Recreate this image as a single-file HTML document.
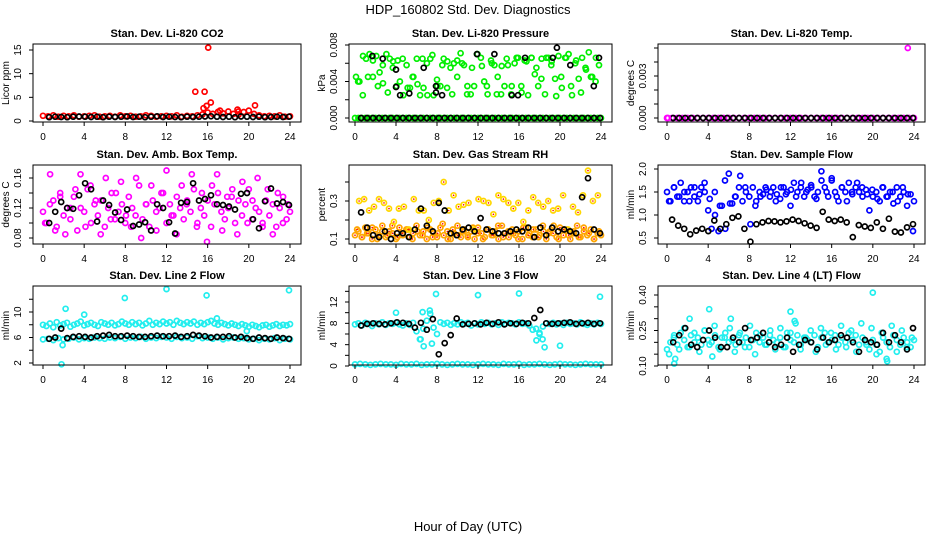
<!DOCTYPE html>
<html><head><meta charset="utf-8">
<style>
html,body{margin:0;padding:0;background:#fff}
svg{display:block;font-family:"Liberation Sans",Arial,sans-serif}
</style></head>
<body>
<svg id="c" width="936" height="540" viewBox="0 0 936 540">
<text x="468" y="14" text-anchor="middle" font-size="13">HDP_160802 Std. Dev. Diagnostics</text>
<text x="468" y="531" text-anchor="middle" font-size="13">Hour of Day (UTC)</text>
</svg>
<script>
// ---- data ----
const xTicks=[0,4,8,12,16,20,24];
// CO2
const co2Red=[1.1,1.0,1.2,0.9,1.1,1.0,1.2,0.9,1.0,1.1,1.2,0.9,1.0,1.1,0.9,1.2,1.0,1.1,0.9,1.0,1.2,1.1,0.9,1.0,1.1,1.0,1.2,0.9,1.1,1.0,1.2,1.4,1.8,1.5,1.9,1.6,2.0,1.5,1.3,1.9,2.2,1.5,1.2,1.0,1.1,1.0,1.2,0.9,1.0];
const co2OutHours=[14.8,15.7,16.05,16.3,15.9,15.6,20.6,17.2,18.9,17.0,19.0];
const co2OutVals=[6.2,6.2,15.5,3.9,3.2,2.7,3.3,2.2,2.4,1.9,2.0];
const co2Black=[0.8,0.9,0.85,0.8,0.9,0.95,0.9,0.85,0.9,0.8,0.9,0.85,0.9,0.95,0.85,0.9,0.8,0.9,1.0,0.85,0.9,0.85,0.8,0.9,0.85,0.9,0.95,1.0,0.9,0.85,0.9,0.8,0.95,0.9,0.85,0.9,0.8,0.85,0.9,0.85,0.9];
// Pressure
const presGreenA=[0.0045,0.004,0.0025,0.0065,0.007,0.0045,0.0068,0.005,0.0038,0.007,0.0065,0.0062,0.0035,0.004,0.0025,0.0058,0.0033,0.0045,0.0065,0.0025,0.0033,0.006,0.0065,0.0025,0.0042,0.0035,0.0065,0.0033,0.0055,0.006,0.0063,0.0071,0.0058,0.0035,0.0026,0.0035,0.007,0.0066,0.004,0.0026,0.0063,0.0058,0.0045,0.0026,0.0035,0.0058,0.0026,0.006,0.0066,0.0035,0.0063,0.0025,0.0066,0.0048,0.0035,0.0065,0.0026,0.0066,0.0062,0.0043,0.0068,0.0033,0.0066,0.007,0.0025,0.006,0.0043,0.0066,0.0055,0.0072,0.0045,0.004,0.0058];
const presGreenB=[0.004,0.0068,0.0045,0.0063,0.0035,0.0058,0.0028,0.0055,0.0063,0.0065,0.0033,0.0045,0.0037,0.0065,0.0025,0.0069,0.0035,0.0058,0.0062,0.0026,0.0045,0.006,0.0026,0.0055,0.007,0.0057,0.0035,0.006,0.0026,0.0057,0.0065,0.0035,0.0066,0.0028,0.0062,0.0066,0.0055,0.0043,0.0066,0.0058,0.0024,0.0045,0.0066,0.0035,0.0063,0.0028,0.0053,0.0045,0.0066];
const presGreenZero=[0,0,0,0,0,0,0,0,0,0,0,0,0,0,0,0,0,0,0,0,0,0,0,0,0,0,0,0,0,0,0,0,0,0,0,0,0,0,0,0,0,0,0,0,0,0,0,0,0,0,0,0,0,0,0,0,0,0,0,0,0,0,0,0,0,0,0,0,0,0,0,0,0];
const presBlackZero=[0,0,0,0,0,0,0,0,0,0,0,0,0,0,0,0,0,0,0,0,0,0,0,0,0,0,0,0,0,0,0,0,0,0,0,0,0,0,0,0,0];
const presBlackHours=[1.7,2.7,4.0,4.0,4.4,5.3,6.7,7.9,7.9,8.5,11.9,13.6,15.3,15.9,16.6,19.3,19.7,21.0,23.3,23.8];
const presBlackVals=[0.0068,0.0065,0.0053,0.0034,0.0025,0.0027,0.0055,0.0035,0.0028,0.0025,0.007,0.007,0.0025,0.0025,0.0066,0.0066,0.0077,0.0058,0.0035,0.0066];
// Li-820 Temp
const tempMagZero=[0,0,0,0,0,0,0,0,0,0,0,0,0,0,0,0,0,0,0,0,0,0,0,0,0,0,0,0,0,0,0,0,0,0,0,0,0,0,0,0,0,0,0,0,0,0,0,0,0];
const tempBlackZero=[0,0,0,0,0,0,0,0,0,0,0,0,0,0,0,0,0,0,0,0,0,0,0,0,0,0,0,0,0,0,0,0,0,0,0,0,0,0,0,0,0];
const tempOutHours=[23.4,0.1];
const tempOutVals=[0.005,0];
// Amb box temp
const ambMagA=[0.115,0.1,0.125,0.13,0.095,0.14,0.11,0.12,0.105,0.135,0.09,0.12,0.115,0.145,0.1,0.125,0.11,0.13,0.095,0.12,0.14,0.105,0.115,0.125,0.1,0.135,0.12,0.11,0.15,0.105,0.125,0.095,0.13,0.115,0.12,0.14,0.1,0.125,0.11,0.135,0.12,0.105,0.13,0.115,0.145,0.1,0.12,0.11,0.13,0.095,0.125,0.14,0.115,0.105,0.12,0.135,0.1,0.13,0.11,0.125,0.145,0.105,0.12,0.115,0.1,0.13,0.11,0.125,0.095,0.12,0.135,0.105,0.115];
const ambMagB=[0.1,0.165,0.09,0.135,0.085,0.12,0.145,0.165,0.095,0.15,0.13,0.085,0.16,0.105,0.14,0.155,0.11,0.095,0.16,0.08,0.125,0.15,0.09,0.14,0.17,0.11,0.085,0.15,0.125,0.165,0.095,0.14,0.075,0.15,0.165,0.09,0.135,0.145,0.085,0.155,0.1,0.13,0.16,0.095,0.145,0.085,0.14,0.1,0.125];
const ambBlack=[0.1,0.115,0.128,0.12,0.119,0.137,0.153,0.145,0.102,0.13,0.124,0.114,0.104,0.118,0.096,0.098,0.101,0.09,0.125,0.12,0.101,0.086,0.127,0.128,0.153,0.13,0.132,0.137,0.125,0.124,0.122,0.118,0.139,0.14,0.105,0.093,0.129,0.146,0.126,0.128,0.124];
// Gas stream RH
const rhBandA=[0.12,0.14,0.11,0.16,0.13,0.1,0.15,0.12,0.17,0.11,0.14,0.13,0.1,0.16,0.12,0.15,0.11,0.13,0.17,0.12,0.14,0.1,0.15,0.13,0.11,0.16,0.12,0.14,0.1,0.13,0.17,0.11,0.15,0.12,0.14,0.1,0.16,0.13,0.11,0.15,0.12,0.14,0.1,0.17,0.13,0.11,0.15,0.12,0.14,0.1,0.16,0.13,0.11,0.15,0.12,0.17,0.1,0.14,0.13,0.11,0.16,0.12,0.15,0.1,0.13,0.17,0.11,0.14,0.12,0.15,0.1,0.13,0.12];
const rhBandB=[0.15,0.11,0.13,0.16,0.1,0.14,0.12,0.17,0.11,0.13,0.15,0.1,0.14,0.12,0.16,0.11,0.13,0.18,0.1,0.15,0.12,0.14,0.11,0.16,0.13,0.1,0.15,0.12,0.17,0.11,0.14,0.13,0.1,0.16,0.12,0.15,0.11,0.14,0.13,0.17,0.1,0.15,0.12,0.14,0.11,0.16,0.13,0.1,0.14];
const rhUpper=[0.3,0.31,0.25,0.27,0.31,0.29,0.26,0.19,0.26,0.27,0.15,0.31,0.25,0.25,0.2,0.29,0.3,0.4,0.25,0.33,0.27,0.28,0.29,0.15,0.31,0.3,0.29,0.23,0.33,0.31,0.29,0.26,0.29,0.19,0.25,0.32,0.29,0.27,0.3,0.25,0.26,0.33,0.15,0.27,0.24,0.33,0.46,0.3,0.33];
const rhBlack=[0.24,0.16,0.12,0.11,0.14,0.1,0.13,0.13,0.11,0.15,0.26,0.17,0.14,0.29,0.25,0.13,0.12,0.15,0.16,0.14,0.21,0.15,0.14,0.13,0.13,0.14,0.15,0.14,0.16,0.11,0.16,0.12,0.16,0.14,0.15,0.14,0.13,0.32,0.42,0.15,0.13];
// Sample flow
const sfBlueA=[1.5,1.3,1.6,1.4,1.7,1.3,1.5,1.6,1.4,1.3,1.6,1.5,1.1,0.7,1.0,0.65,1.2,0.7,1.9,1.25,1.4,1.6,1.3,1.5,1.4,1.6,1.3,1.5,1.45,1.55,1.4,1.6,1.45,1.35,1.6,1.5,1.2,1.7,1.5,1.6,1.4,1.55,1.65,1.4,1.5,1.95,1.6,1.4,1.75,1.5,1.3,1.6,1.5,1.7,1.45,1.6,1.5,1.4,1.55,1.1,1.4,1.5,1.3,1.6,1.4,1.5,1.25,1.6,1.4,1.5,1.2,1.45,1.3];
const sfBlueB=[1.3,1.6,1.4,1.5,1.3,1.6,1.45,1.7,1.35,1.5,1.2,1.75,1.25,1.4,1.85,1.6,0.8,1.2,1.4,1.6,1.5,1.3,1.6,1.45,1.55,1.4,1.7,1.5,1.6,1.35,1.75,1.5,1.8,1.4,1.6,1.3,1.5,1.7,1.6,1.45,1.55,1.35,1.6,1.4,1.5,1.3,1.6,1.45,0.65];
const sfBlack=[0.9,0.77,0.7,0.58,0.66,0.7,0.65,0.88,0.7,0.8,0.94,0.97,0.7,0.42,0.8,0.84,0.87,0.86,0.84,0.86,0.9,0.87,0.82,0.77,0.72,1.07,0.9,0.87,0.9,0.84,0.52,0.78,0.75,0.72,0.84,0.7,0.92,0.64,0.62,0.73,0.8];
// Line 2 flow
const l2CyanUp=[8.0,7.8,8.2,7.6,8.4,7.9,8.1,8.3,7.7,8.0,8.2,8.5,7.9,8.1,8.3,8.0,7.8,8.4,8.2,8.0,8.3,7.9,8.1,8.5,8.2,8.0,8.4,8.1,8.3,7.9,8.2,8.6,8.0,8.3,8.1,8.5,8.2,8.4,8.0,8.6,8.3,8.1,8.4,8.2,8.5,8.0,8.3,8.1,8.4,8.6,8.2,8.0,8.3,8.1,7.9,8.2,8.0,7.8,8.1,7.9,7.7,8.0,7.8,7.6,7.9,8.0,7.7,7.9,8.1,7.8,8.0,7.9,8.1];
const l2CyanLow=[5.7,5.8,5.6,5.9,5.7,5.8,6.0,5.7,5.9,5.8,6.0,5.9,5.8,6.0,5.9,6.1,5.8,6.0,5.9,6.1,5.8,6.0,5.9,6.1,6.0,5.8,6.1,5.9,6.0,5.8,6.2,5.9,6.0,5.8,6.0,5.7,5.9,6.0,5.8,5.9,5.7,5.8,5.6,5.8,5.7,5.9,5.6,5.8,5.7];
const l2OutHours=[1.8,1.9,2.2,4.0,7.95,12.0,15.9,23.9,19.8,16.9];
const l2OutVals=[1.8,4.8,10.5,9.6,12.2,13.6,12.6,13.4,7.0,9.0];
const l2Black=[5.8,6.0,7.4,5.9,6.1,6.2,6.1,6.0,6.2,6.3,6.4,6.2,6.2,6.3,6.2,6.1,6.1,6.2,6.3,6.2,6.2,6.3,6.1,6.2,6.4,6.3,6.2,6.0,6.1,6.1,6.2,6.0,6.1,5.9,5.8,6.0,5.9,5.8,6.0,5.9,5.8];
// Line 3 flow
const l3CyanUp=[7.8,8.0,7.6,8.1,7.9,7.5,8.0,7.8,8.2,7.7,8.0,7.9,8.1,7.8,7.6,8.0,7.7,8.1,6.5,5.0,7.0,8.5,9.8,7.2,6.0,8.2,7.9,8.1,7.7,8.0,7.8,8.2,7.9,8.1,7.6,8.0,7.8,8.2,7.9,8.1,7.8,8.0,7.7,8.2,7.9,8.1,8.0,7.8,8.2,7.9,8.0,7.6,6.8,7.0,6.2,7.4,8.0,7.9,8.1,7.8,8.0,7.7,8.1,7.9,8.0,7.8,8.2,7.9,7.7,8.0,7.8,8.1,7.9];
const l3CyanZero=[0.3,0.4,0.3,0.2,0.3,0.4,0.3,0.3,0.2,0.4,0.3,0.3,0.4,0.2,0.3,0.3,0.4,0.3,0.2,0.3,0.4,0.3,0.3,0.2,0.3,0.4,0.3,0.3,0.2,0.4,0.3,0.3,0.4,0.2,0.3,0.3,0.4,0.3,0.2,0.3,0.4,0.3,0.3,0.2,0.3,0.4,0.3,0.3,0.3];
const l3OutHours=[4.0,6.6,7.3,7.9,12.0,16.0,23.9,6.4,6.7,7.5,18.0,18.3,17.7,18.5,20.0];
const l3OutVals=[10.0,10.1,10.4,13.5,13.3,13.6,13.0,5.0,3.7,4.2,6.0,5.0,4.8,3.5,3.8];
const l3Black=[7.6,7.9,8.0,7.9,7.8,8.0,8.2,8.1,7.9,7.2,8.1,6.8,8.8,2.2,4.3,5.8,8.9,7.8,7.9,8.0,7.8,8.1,7.9,8.2,7.8,8.0,7.9,8.1,8.0,9.0,10.5,8.0,7.9,8.0,8.1,8.2,7.9,8.0,8.1,7.9,8.0];
// Line 4 flow
const l4CyanA=[0.17,0.2,0.22,0.19,0.24,0.21,0.18,0.23,0.2,0.22,0.19,0.25,0.21,0.2,0.23,0.18,0.22,0.24,0.2,0.21,0.19,0.23,0.2,0.22,0.18,0.21,0.24,0.2,0.22,0.19,0.23,0.21,0.2,0.22,0.18,0.24,0.21,0.2,0.23,0.19,0.22,0.21,0.2,0.23,0.18,0.22,0.24,0.2,0.21,0.23,0.19,0.22,0.2,0.24,0.21,0.23,0.19,0.22,0.2,0.17,0.21,0.19,0.16,0.22,0.2,0.18,0.23,0.21,0.19,0.22,0.2,0.18,0.21];
const l4CyanB=[0.15,0.23,0.17,0.26,0.18,0.24,0.16,0.25,0.19,0.27,0.17,0.22,0.26,0.16,0.24,0.18,0.27,0.15,0.23,0.19,0.25,0.17,0.26,0.18,0.24,0.28,0.17,0.22,0.25,0.16,0.26,0.19,0.24,0.17,0.27,0.18,0.25,0.16,0.28,0.19,0.26,0.15,0.24,0.13,0.27,0.16,0.25,0.18,0.22];
const l4OutHours=[4.1,12.0,20.0,6.2,2.2,0.7,0.8,4.4,21.4,12.4];
const l4OutVals=[0.34,0.33,0.41,0.3,0.3,0.11,0.13,0.14,0.12,0.29];
const l4Black=[0.2,0.23,0.26,0.19,0.18,0.21,0.25,0.22,0.18,0.18,0.22,0.2,0.26,0.21,0.22,0.24,0.2,0.18,0.19,0.22,0.16,0.19,0.21,0.2,0.17,0.22,0.2,0.21,0.23,0.22,0.2,0.16,0.21,0.2,0.19,0.24,0.2,0.23,0.2,0.17,0.26];

// ---- layout ----
const NS="http://www.w3.org/2000/svg";
const svg=document.getElementById('c');
const cols=[{l:33,r:301,h0:43,h24:290},{l:349,r:612,h0:355,h24:601},{l:658,r:925,h0:667,h24:914}];
const rows=[{t:44,b:122},{t:165,b:244},{t:286,b:365}];
function mk(tag,attrs,parent){const e=document.createElementNS(NS,tag);for(const k in attrs)e.setAttribute(k,attrs[k]);(parent||svg).appendChild(e);return e;}
function span(n,a,b){const o=[];for(let i=0;i<n;i++)o.push(n>1?a+(b-a)*i/(n-1):a);return o;}

function panel(cfg){
  const c=cols[cfg.col],r=rows[cfg.row];
  const g=mk('g',{});
  
  
  const xs=h=>c.h0+(c.h24-c.h0)*h/24;
  const [v1,p1,v2,p2]=cfg.yref;
  const ys=v=>p1+(v-v1)*(p2-p1)/(v2-v1);
  const t=mk('text',{x:(c.l+c.r)/2,y:r.t-7,'text-anchor':'middle','font-size':'11','font-weight':'bold'},g);
  t.textContent=cfg.title;
  
  
  cfg.series.forEach(s=>{
    const sg=mk('g',{fill:s.fill||'none',stroke:s.color,'stroke-width':s.sw||1.7},g);
    
    
    for(let i=0;i<s.vals.length;i++){
      const pt=mk('circle',{cx:xs(s.hrs[i]).toFixed(1),cy:ys(s.vals[i]).toFixed(1),r:s.r||2.5},sg);
      
      
      if(s.dot){mk('circle',{cx:xs(s.hrs[i]).toFixed(1),cy:ys(s.vals[i]).toFixed(1),r:0.8,fill:s.dot,stroke:'none'},sg);}
    }
  });
  const bx=mk('rect',{x:c.l,y:r.t,width:c.r-c.l,height:r.b-r.t,fill:'none',stroke:'#000','stroke-width':1},g);
  
  
  const xa=mk('g',{},g);
  
  
  mk('line',{x1:xs(0),x2:xs(24),y1:r.b,y2:r.b,stroke:'#000'},xa);
  xTicks.forEach(h=>{
    mk('line',{x1:xs(h),x2:xs(h),y1:r.b,y2:r.b+4,stroke:'#000'},xa);
    const tl=mk('text',{x:xs(h),y:r.b+18,'text-anchor':'middle','font-size':'10'},xa);
    tl.textContent=h;
    
    
  });
  const ya=mk('g',{},g);
  
  
  const yt=cfg.yticks;
  mk('line',{x1:c.l,x2:c.l,y1:ys(yt[0]),y2:ys(yt[yt.length-1]),stroke:'#000'},ya);
  yt.forEach(v=>{mk('line',{x1:c.l-4,x2:c.l,y1:ys(v),y2:ys(v),stroke:'#000'},ya);});
  cfg.ylabels.forEach((lab,i)=>{
    const y=ys(cfg.ylabelVals[i]);
    const tl=mk('text',{x:c.l-12,y:y,'text-anchor':'middle','font-size':'10',transform:`rotate(-90 ${c.l-12} ${y})`},ya);
    tl.textContent=lab;
    
    
  });
  const ym=(r.t+r.b)/2,yx=c.l-24;
  const yl=mk('text',{x:yx,y:ym,'text-anchor':'middle','font-size':'10',transform:`rotate(-90 ${yx} ${ym})`},ya);
  yl.textContent=cfg.ytitle;
  
  
}

const RED='#ff0000',GRN='#00ee00',MAG='#ff00ff',BLU='#0000ff',CYN='#22eeee',BLK='#000',ORG='#ffa500',YEL='#ffd700';
panel({col:0,row:0,name:'panel-co2',title:'Stan. Dev. Li-820 CO2',ytitle:'Licor ppm',yref:[0,121,15,50],yticks:[0,5,10,15],ylabels:['0','5','10','15'],ylabelVals:[0,5,10,15],
 series:[{name:'co2-red',color:RED,hrs:span(co2Red.length,0,24),vals:co2Red},
 {name:'co2-red-outliers',color:RED,hrs:co2OutHours,vals:co2OutVals},
 {name:'co2-black',color:BLK,hrs:span(co2Black.length,0.6,23.9),vals:co2Black}]});
panel({col:1,row:0,name:'panel-pressure',title:'Stan. Dev. Li-820 Pressure',ytitle:'kPa',yref:[0,118,0.008,45],yticks:[0,0.002,0.004,0.006,0.008],ylabels:['0.000','0.004','0.008'],ylabelVals:[0,0.004,0.008],
 series:[{name:'pressure-green-a',color:GRN,hrs:span(presGreenA.length,0.1,23.8),vals:presGreenA},
 {name:'pressure-green-b',color:GRN,hrs:span(presGreenB.length,0.3,23.5),vals:presGreenB},
 {name:'pressure-green-zero',color:GRN,hrs:span(presGreenZero.length,0,24),vals:presGreenZero},
 {name:'pressure-black-zero',color:BLK,hrs:span(presBlackZero.length,0.6,23.9),vals:presBlackZero},
 {name:'pressure-black',color:BLK,hrs:presBlackHours,vals:presBlackVals}]});
panel({col:2,row:0,name:'panel-li820-temp',title:'Stan. Dev. Li-820 Temp.',ytitle:'degrees C',yref:[0,118,0.003,76],yticks:[0,0.001,0.002,0.003,0.004,0.005],ylabels:['0.000','0.003'],ylabelVals:[0,0.003],
 series:[{name:'temp-magenta-zero',color:MAG,hrs:span(tempMagZero.length,0,24),vals:tempMagZero},
 {name:'temp-black-zero',color:BLK,hrs:span(tempBlackZero.length,0.6,23.9),vals:tempBlackZero},
 {name:'temp-magenta-outliers',color:MAG,hrs:tempOutHours,vals:tempOutVals}]});
panel({col:0,row:1,name:'panel-amb-box-temp',title:'Stan. Dev. Amb. Box Temp.',ytitle:'degrees C',yref:[0.08,238,0.16,178],yticks:[0.08,0.10,0.12,0.14,0.16],ylabels:['0.08','0.12','0.16'],ylabelVals:[0.08,0.12,0.16],
 series:[{name:'amb-magenta-a',color:MAG,hrs:span(ambMagA.length,0,24),vals:ambMagA},
 {name:'amb-magenta-b',color:MAG,hrs:span(ambMagB.length,0.2,23.8),vals:ambMagB},
 {name:'amb-black',color:BLK,hrs:span(ambBlack.length,0.6,23.9),vals:ambBlack}]});
panel({col:1,row:1,name:'panel-gas-stream-rh',title:'Stan. Dev. Gas Stream RH',ytitle:'percent',yref:[0.1,239,0.3,201],yticks:[0.1,0.2,0.3,0.4],ylabels:['0.1','0.3'],ylabelVals:[0.1,0.3],
 series:[{name:'rh-band-a',color:ORG,dot:RED,hrs:span(rhBandA.length,0,24),vals:rhBandA},
 {name:'rh-band-b',color:ORG,dot:RED,hrs:span(rhBandB.length,0.2,23.8),vals:rhBandB},
 {name:'rh-upper',color:YEL,dot:RED,hrs:span(rhUpper.length,0.4,23.7),vals:rhUpper},
 {name:'rh-black',color:BLK,hrs:span(rhBlack.length,0.6,23.9),vals:rhBlack}]});
panel({col:2,row:1,name:'panel-sample-flow',title:'Stan. Dev. Sample Flow',ytitle:'ml/min',yref:[0.5,238,2.0,169],yticks:[0.5,1.0,1.5,2.0],ylabels:['0.5','1.0','1.5','2.0'],ylabelVals:[0.5,1.0,1.5,2.0],
 series:[{name:'sample-blue-a',color:BLU,hrs:span(sfBlueA.length,0,24),vals:sfBlueA},
 {name:'sample-blue-b',color:BLU,hrs:span(sfBlueB.length,0.2,23.9),vals:sfBlueB},
 {name:'sample-black',color:BLK,hrs:span(sfBlack.length,0.5,23.9),vals:sfBlack}]});
panel({col:0,row:2,name:'panel-line2-flow',title:'Stan. Dev. Line 2 Flow',ytitle:'ml/min',yref:[2,363,10,312],yticks:[2,4,6,8,10,12],ylabels:['2','6','10'],ylabelVals:[2,6,10],
 series:[{name:'line2-cyan-upper',color:CYN,hrs:span(l2CyanUp.length,0,24),vals:l2CyanUp},
 {name:'line2-cyan-lower',color:CYN,hrs:span(l2CyanLow.length,0,24),vals:l2CyanLow},
 {name:'line2-cyan-outliers',color:CYN,hrs:l2OutHours,vals:l2OutVals},
 {name:'line2-black',color:BLK,hrs:span(l2Black.length,0.6,23.9),vals:l2Black}]});
panel({col:1,row:2,name:'panel-line3-flow',title:'Stan. Dev. Line 3 Flow',ytitle:'ml/min',yref:[0,366,12,302],yticks:[0,2,4,6,8,10,12,14],ylabels:['0','4','8','12'],ylabelVals:[0,4,8,12],
 series:[{name:'line3-cyan-upper',color:CYN,hrs:span(l3CyanUp.length,0,24),vals:l3CyanUp},
 {name:'line3-cyan-zero',color:CYN,hrs:span(l3CyanZero.length,0,24),vals:l3CyanZero},
 {name:'line3-cyan-outliers',color:CYN,hrs:l3OutHours,vals:l3OutVals},
 {name:'line3-black',color:BLK,hrs:span(l3Black.length,0.6,23.9),vals:l3Black}]});
panel({col:2,row:2,name:'panel-line4-flow',title:'Stan. Dev. Line 4 (LT) Flow',ytitle:'ml/min',yref:[0.1,366,0.4,295],yticks:[0.10,0.15,0.20,0.25,0.30,0.35,0.40],ylabels:['0.10','0.25','0.40'],ylabelVals:[0.10,0.25,0.40],
 series:[{name:'line4-cyan-a',color:CYN,hrs:span(l4CyanA.length,0,24),vals:l4CyanA},
 {name:'line4-cyan-b',color:CYN,hrs:span(l4CyanB.length,0.2,23.8),vals:l4CyanB},
 {name:'line4-cyan-outliers',color:CYN,hrs:l4OutHours,vals:l4OutVals},
 {name:'line4-black',color:BLK,hrs:span(l4Black.length,0.6,23.9),vals:l4Black}]});
</script>
</body></html>
